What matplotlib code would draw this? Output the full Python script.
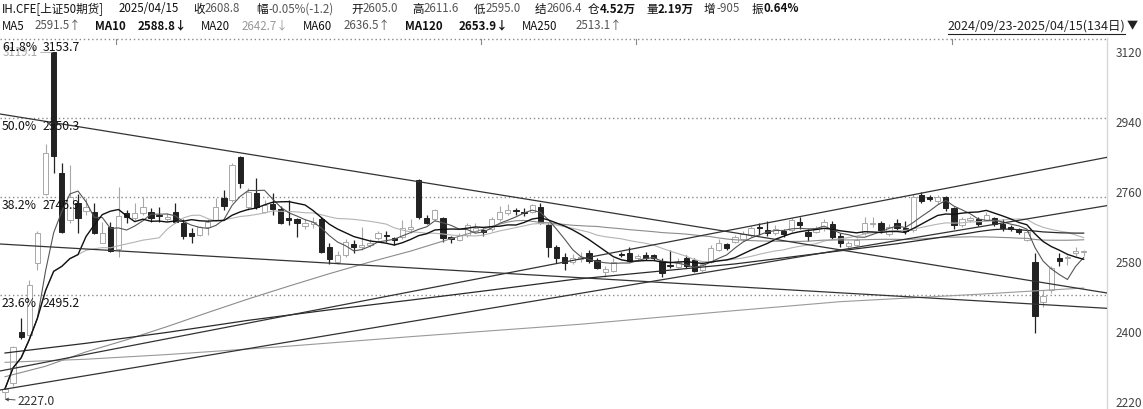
import numpy as np
import pandas as pd
import matplotlib
matplotlib.use('Agg')
import matplotlib.pyplot as plt

plt.rcParams['font.family'] = ['Noto Sans CJK SC', 'DejaVu Sans']

# ---------------- data ----------------
opens = [2245, 2268, 2401, 2392, 2577, 2755, 3119, 2810, 2688, 2731,
         2712, 2709, 2630, 2671, 2613, 2707, 2692, 2705, 2709, 2701,
         2690, 2709, 2681, 2654, 2649, 2669, 2688, 2744, 2739, 2851,
         2722, 2758, 2709, 2728, 2716, 2693, 2690, 2673, 2677, 2691,
         2618, 2580, 2598, 2626, 2618, 2625, 2641, 2650, 2642, 2645,
         2664, 2791, 2692, 2690, 2692, 2644, 2637, 2649, 2660, 2662,
         2664, 2690, 2707, 2713, 2708, 2709, 2722, 2675, 2618, 2592,
         2580, 2588, 2602, 2585, 2555, 2558, 2601, 2602, 2590, 2597,
         2597, 2581, 2572, 2568, 2590, 2585, 2559, 2581, 2612, 2626,
         2632, 2640, 2649, 2670, 2662, 2655, 2660, 2662, 2684, 2656,
         2658, 2667, 2678, 2647, 2622, 2624, 2655, 2678, 2680, 2652,
         2680, 2667, 2662, 2752, 2748, 2737, 2748, 2718, 2675, 2688,
         2691, 2688, 2692, 2678, 2671, 2664, 2637, 2581, 2478, 2508,
         2591, 2590, 2602, 2605.0]
highs = [2262, 2365, 2435, 2534, 2660, 2883, 3119.1, 2835, 2829, 2755,
         2745, 2731, 2684, 2684, 2774, 2714, 2731, 2748, 2718, 2721,
         2705, 2733, 2690, 2667, 2672, 2690, 2744, 2765, 2834, 2853,
         2770, 2795, 2740, 2757, 2725, 2739, 2692, 2690, 2695, 2697,
         2628, 2608, 2640, 2637, 2671, 2640, 2660, 2660, 2645, 2688,
         2690, 2793, 2702, 2716, 2695, 2648, 2655, 2680, 2680, 2668,
         2695, 2724, 2728, 2718, 2718, 2730, 2731, 2680, 2625, 2602,
         2600, 2605, 2610, 2590, 2570, 2590, 2605, 2619, 2600, 2605,
         2600, 2590, 2611, 2590, 2597, 2590, 2580, 2625, 2640, 2630,
         2650, 2660, 2672, 2680, 2685, 2675, 2665, 2692, 2695, 2665,
         2672, 2690, 2685, 2655, 2635, 2642, 2697, 2697, 2685, 2678,
         2690, 2685, 2755, 2760, 2752, 2752, 2750, 2722, 2695, 2698,
         2695, 2708, 2695, 2690, 2675, 2668, 2662, 2604, 2508, 2570,
         2602, 2598, 2618, 2611.6]
lows = [2227, 2262, 2382, 2390, 2559, 2752, 2808, 2655, 2680, 2654,
        2700, 2652, 2628, 2606, 2592, 2680, 2688, 2700, 2683, 2684,
        2685, 2680, 2638, 2628, 2646, 2649, 2685, 2714, 2735, 2770,
        2715, 2717, 2705, 2700, 2677, 2675, 2645, 2665, 2668, 2604,
        2575, 2575, 2592, 2603, 2612, 2618, 2636, 2632, 2625, 2640,
        2655, 2690, 2678, 2686, 2632, 2630, 2633, 2645, 2655, 2648,
        2660, 2686, 2702, 2700, 2698, 2705, 2678, 2592, 2577, 2560,
        2575, 2580, 2578, 2562, 2542, 2555, 2592, 2580, 2582, 2585,
        2585, 2542, 2564, 2565, 2565, 2555, 2555, 2578, 2608, 2610,
        2628, 2635, 2645, 2649, 2648, 2650, 2645, 2658, 2665, 2635,
        2655, 2660, 2640, 2619, 2615, 2620, 2650, 2670, 2655, 2648,
        2660, 2652, 2658, 2733, 2738, 2730, 2712, 2664, 2670, 2683,
        2673, 2685, 2672, 2660, 2660, 2652, 2633, 2398, 2465, 2500,
        2570, 2572, 2595, 2595.0]
closes = [2254, 2362, 2386, 2521, 2655, 2861, 2853, 2658, 2748, 2692,
          2722, 2655, 2654, 2609, 2698, 2695, 2707, 2721, 2694, 2698,
          2697, 2684, 2647, 2648, 2669, 2684, 2722, 2724, 2829, 2784,
          2761, 2721, 2727, 2716, 2680, 2688, 2680, 2680, 2684, 2607,
          2588, 2598, 2632, 2618, 2624, 2630, 2654, 2648, 2637, 2667,
          2671, 2697, 2681, 2714, 2641, 2638, 2649, 2675, 2668, 2656,
          2690, 2709, 2714, 2711, 2706, 2727, 2681, 2619, 2590, 2578,
          2590, 2592, 2583, 2564, 2561, 2581, 2598, 2583, 2595, 2590,
          2590, 2553, 2569, 2581, 2570, 2558, 2574, 2615, 2630, 2615,
          2645, 2652, 2667, 2668, 2654, 2664, 2652, 2688, 2675, 2647,
          2667, 2684, 2644, 2628, 2628, 2637, 2681, 2681, 2662, 2671,
          2668, 2660, 2748, 2738, 2742, 2746, 2718, 2675, 2690, 2692,
          2678, 2700, 2678, 2667, 2664, 2656, 2658, 2441, 2493, 2564,
          2583, 2594, 2608, 2608.8]

# long moving averages: early part (window reaches before the shown data)
ma60_early_idx = [0, 5, 10, 15, 20, 25, 30, 35, 40, 45, 50, 55]
ma60_early_val = [2285, 2312, 2349, 2380, 2414, 2450, 2485, 2518, 2550, 2580, 2608, 2640]
ma120_early_idx = [0, 10, 20, 30, 40, 50, 60, 70, 80, 90, 100, 110]
ma120_early_val = [2346, 2371, 2399, 2430, 2457, 2482, 2508, 2535, 2555, 2575, 2601, 2627]
ma250_idx = [0, 10, 20, 34, 50, 71, 90, 103, 120, 133]
ma250_val = [2322, 2330, 2342, 2362, 2388, 2420, 2455, 2478, 2497, 2513.1]

# hand-drawn trend lines (start index, start price, end index, end price)
trend_x0 = [-0.62, -0.62, -0.62, -0.62]
trend_y0 = [2960.6, 2626.3, 2299.7, 2250.9]
trend_x1 = [135.88, 135.88, 135.88, 135.88]
trend_y1 = [2500.3, 2460.9, 2849.2, 2725.0]

fib_levels = [3153.7, 2950.3, 2746.9, 2495.2]
fib_pcts = ['61.8%', '50.0%', '38.2%', '23.6%']
fib_vals = ['3153.7', '2950.3', '2746.9', '2495.2']
yticks = [3120, 2940, 2760, 2580, 2400, 2220]
top_marks = [13.7, 58.7, 77.8, 116.8]

W, H = 1143, 409
fig = plt.figure(figsize=(W / 100, H / 100), dpi=100)
fig.patch.set_facecolor('white')
ax = fig.add_axes([0, 0, 1107 / W, (H - 38) / H])
ax.set_xlim(-0.6165, 135.88)
ax.set_ylim(2202.0, 3156.0)

n = len(closes)
x = np.arange(n)
o = np.array(opens, float); c = np.array(closes, float)
h = np.array(highs, float); l = np.array(lows, float)
up = c >= o

# candles
ax.vlines(x[up], l[up], h[up], color='#a8a8a8', lw=0.8, zorder=2)
ax.vlines(x[~up], l[~up], h[~up], color='#222222', lw=0.9, zorder=2)
body_b = np.minimum(o, c)
body_h = np.maximum(np.abs(c - o), 1.2)
ax.bar(x[up], body_h[up], bottom=body_b[up], width=0.65, facecolor='white',
       edgecolor='#a8a8a8', lw=0.7, zorder=3)
ax.bar(x[~up], body_h[~up], bottom=body_b[~up], width=0.65, facecolor='#222222',
       edgecolor='#222222', lw=0.7, zorder=3)

# moving averages
cs = pd.Series(c)
ma5 = cs.rolling(5, min_periods=1).mean()
ma10 = cs.rolling(10, min_periods=1).mean()
ma20 = cs.rolling(20, min_periods=1).mean()
r60 = cs.rolling(60).mean()
r120 = cs.rolling(120).mean()
ma60_x = list(ma60_early_idx) + list(range(59, n))
ma60_y = list(ma60_early_val) + list(r60.values[59:])
ma120_x = list(ma120_early_idx) + list(range(119, n))
ma120_y = list(ma120_early_val) + list(r120.values[119:])

ax.plot(x, ma20, color='#b4b4b4', lw=0.8, zorder=4)
ax.plot(ma60_x, ma60_y, color='#8c8c8c', lw=0.8, zorder=4)
ax.plot(ma250_idx, ma250_val, color='#9a9a9a', lw=0.8, zorder=4)
ax.plot(ma120_x, ma120_y, color='#2a2a2a', lw=0.9, zorder=4)
ax.plot(x, ma5, color='#555555', lw=0.8, zorder=4)
ax.plot(x, ma10, color='#111111', lw=1.0, zorder=4)

# trend lines
for a0, b0, a1, b1 in zip(trend_x0, trend_y0, trend_x1, trend_y1):
    ax.plot([a0, a1], [b0, b1], color='#333333', lw=0.9, zorder=4)

# fibonacci levels
for lv, pc, vs in zip(fib_levels, fib_pcts, fib_vals):
    ax.axhline(lv, color='#8a8a8a', lw=1.0, ls=(0, (1, 2)), zorder=1)
    ax.annotate(pc, xy=(0, lv), xycoords=('axes fraction', 'data'),
                xytext=(2, -8.5), textcoords='offset pixels', ha='left', va='center',
                fontsize=8.8, color='#111111', zorder=6)
    ax.annotate(vs, xy=(0, lv), xycoords=('axes fraction', 'data'),
                xytext=(43, -8.5), textcoords='offset pixels', ha='left', va='center',
                fontsize=8.8, color='#111111', zorder=6)

# high / low markers
hi_i = int(np.argmax(h)); lo_i = int(np.argmin(l))
ax.annotate(f'{h[hi_i]:.1f}', xy=(hi_i, h[hi_i]), xytext=(-51, 0), textcoords='offset pixels',
            ha='left', va='center', fontsize=8.3, color='#aaaaaa', zorder=5,
            arrowprops=dict(arrowstyle='-', color='#aaaaaa', lw=0.6, shrinkA=0, shrinkB=1))
ax.annotate(f'{l[lo_i]:.1f}', xy=(lo_i, l[lo_i]), xytext=(13, -2), textcoords='offset pixels',
            ha='left', va='center', fontsize=8.8, color='#333333', zorder=5,
            arrowprops=dict(arrowstyle='->', color='#333333', lw=0.6, shrinkA=0, shrinkB=0,
                            mutation_scale=5))

# small marks hanging from the top dotted line
for tm in top_marks:
    ax.plot([tm, tm], [fib_levels[0], fib_levels[0] - 12], color='#888888', lw=0.8, zorder=2)

# axes styling
for s in ['top', 'left', 'bottom']:
    ax.spines[s].set_visible(False)
ax.spines['right'].set_color('#d8d8d8')
ax.spines['right'].set_linewidth(1.0)
ax.set_xticks([])
ax.yaxis.tick_right()
ax.set_yticks(yticks)
ax.set_yticklabels([str(v) for v in yticks])
ax.tick_params(axis='y', length=0, pad=6, labelsize=8.6, labelcolor='#444444')

# ---------------- header ----------------
K, G, LG = '#111111', '#555555', '#999999'
def ftxt(px, py, s, color=K, weight='normal', size=8.3, ha='left'):
    fig.text(px / W, 1 - py / H, s, color=color, fontsize=size, fontweight=weight,
             ha=ha, va='center')

row1 = [(2, 'IH.CFE[上证50期货]', K, 'normal'), (119, '2025/04/15', K, 'medium'),
        (193, '收', K, 'normal'), (205, '2608.8', G, 'normal'),
        (256, '幅', K, 'normal'), (268, '-0.05%(-1.2)', G, 'normal'),
        (351, '开', K, 'normal'), (363, '2605.0', G, 'normal'),
        (412, '高', K, 'normal'), (424, '2611.6', G, 'normal'),
        (474, '低', K, 'normal'), (486, '2595.0', G, 'normal'),
        (535, '结', K, 'normal'), (547, '2606.4', G, 'normal'),
        (588, '仓', K, 'normal'), (600, '4.52万', K, 'bold'),
        (646, '量', K, 'normal'), (658, '2.19万', K, 'bold'),
        (704, '增', K, 'normal'), (716, '-905', G, 'normal'),
        (752, '振', K, 'normal'), (764, '0.64%', K, 'bold')]
for px, s, col, wt in row1:
    ftxt(px, 9, s, col, wt)

row2 = [(2, 'MA5', K, 'normal'), (35, '2591.5↑', G, 'normal'),
        (95, 'MA10', K, 'bold'), (138, '2588.8↓', K, 'bold'),
        (201, 'MA20', K, 'normal'), (242, '2642.7↓', LG, 'normal'),
        (303, 'MA60', K, 'normal'), (344, '2636.5↑', G, 'normal'),
        (405, 'MA120', K, 'bold'), (459, '2653.9↓', K, 'bold'),
        (522, 'MA250', K, 'normal'), (576, '2513.1↑', G, 'normal')]
for px, s, col, wt in row2:
    ftxt(px, 26, s, col, wt)

ftxt(1125, 26.5, '2024/09/23-2025/04/15(134日)', '#222222', 'normal', 9.0, ha='right')
ftxt(1127, 26, '▼', '#222222', 'normal', 8.0)
fig.add_artist(plt.Line2D([948 / W, 1125 / W], [1 - 34 / H, 1 - 34 / H], color='#222222', lw=0.8))

fig.savefig('out.png', dpi=100, facecolor='white')
